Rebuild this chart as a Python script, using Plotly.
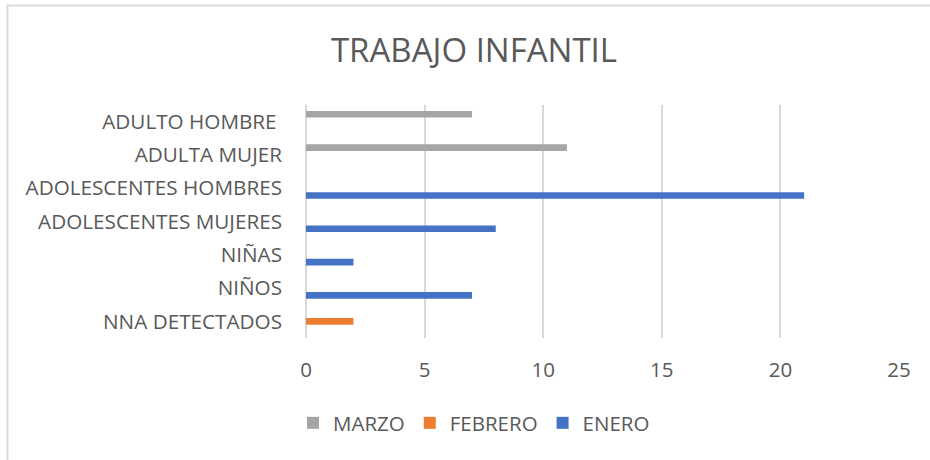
import plotly.graph_objects as go

categories = ["NNA DETECTADOS", "NIÑOS", "NIÑAS", "ADOLESCENTES MUJERES",
              "ADOLESCENTES HOMBRES", "ADULTA MUJER", "ADULTO HOMBRE\u00a0"]
enero = [None, 7, 2, 8, 21, None, None]
febrero = [2, None, None, None, None, None, None]
marzo = [None, None, None, None, None, 11, 7]
x_ticks = [0, 5, 10, 15, 20, 25]

PW, PH = 930, 460
W, H = PW, PH
# plot area in page pixels
PL, PR, PT, PB = 306, 899, 105, 338
L, R, T, B = PL, PW - PR, PT, PH - PB
TXT = "#595959"
GRID = "#d9d9d9"
FONT = "Open Sans"

fig = go.Figure()
fig.add_trace(go.Bar(y=categories, x=enero, name="ENERO", orientation="h",
                     marker=dict(color="#4472C4", line=dict(width=0))))
fig.add_trace(go.Bar(y=categories, x=febrero, name="FEBRERO", orientation="h",
                     marker=dict(color="#ED7D31", line=dict(width=0))))
fig.add_trace(go.Bar(y=categories, x=marzo, name="MARZO", orientation="h",
                     marker=dict(color="#A5A5A5", line=dict(width=0))))

pw = PR - PL
ph = PB - PT

def px2paper_x(p):
    return (p - PL) / pw

def px2paper_y(p):
    return (PB - p) / ph

def cx(p):
    return p / W

def cy(p):
    return 1 - p / H

fig.update_layout(
    width=W, height=H,
    margin=dict(l=L, r=R, t=T, b=B, pad=0, autoexpand=False),
    paper_bgcolor="white", plot_bgcolor="white",
    barmode="group", bargap=0.34, bargroupgap=0.1,
    font=dict(family=FONT, size=20.7, color=TXT),
    title=dict(text="TRABAJO INFANTIL", font=dict(family=FONT, size=33, color=TXT),
               x=cx(474), xanchor="center", xref="container",
               y=cy(50), yanchor="middle", yref="container"),
    xaxis=dict(range=[0, 25], tickvals=x_ticks, showgrid=True, gridcolor=GRID,
               gridwidth=1.5, zeroline=True, zerolinecolor=GRID, zerolinewidth=1.5,
               showline=False, ticks="", ticklabelstandoff=17,
               tickfont=dict(family=FONT, size=20.5, color=TXT), fixedrange=True),
    yaxis=dict(type="category", categoryorder="array", categoryarray=categories,
               showgrid=False, zeroline=False, showline=False, ticks="",
               ticklabelstandoff=23,
               tickfont=dict(family=FONT, size=20.7, color=TXT)),
    showlegend=True,
    legend=dict(orientation="h", traceorder="reversed",
                xref="container", x=cx(474), xanchor="center",
                yref="container", y=cy(423), yanchor="middle",
                font=dict(family=FONT, size=20.5, color=TXT)),
    shapes=[dict(type="rect", xref="paper", yref="paper",
                 x0=px2paper_x(7.5), x1=px2paper_x(960),
                 y0=px2paper_y(490), y1=px2paper_y(5.5),
                 line=dict(color=GRID, width=2), fillcolor="rgba(0,0,0,0)",
                 layer="below")],
)

fig.write_html("out.html",
               config={"displayModeBar": False},
               post_script="document.body.style.margin='0';"
                           "document.body.style.overflow='hidden';")
